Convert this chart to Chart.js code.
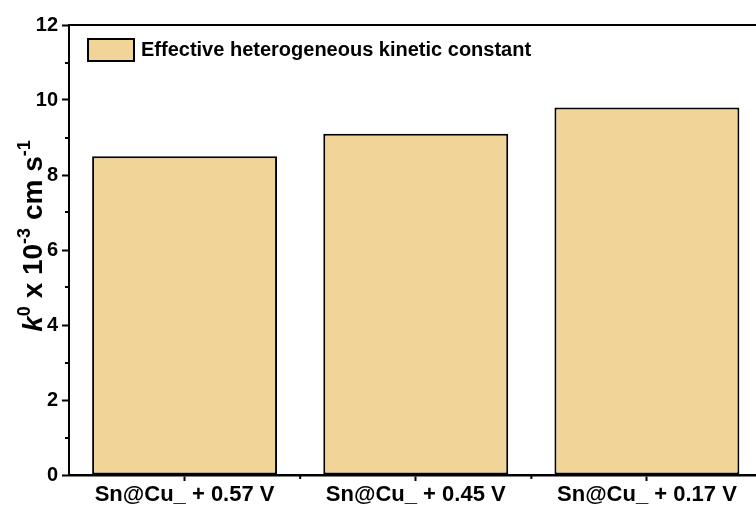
<!DOCTYPE html>
<html>
<head>
<meta charset="utf-8">
<script src="https://cdn.jsdelivr.net/npm/chart.js@4/dist/chart.umd.min.js"></script>
<style>
  html, body { margin: 0; padding: 0; background: #fff; overflow: hidden; }
  #wrap { width: 756px; height: 506px; overflow: hidden; }
  canvas { display: block; }
</style>
</head>
<body>
<div id="wrap"><canvas id="kChart" width="780" height="506"></canvas></div>
<script>
// data
const categories = ["Sn@Cu_ + 0.57 V", "Sn@Cu_ + 0.45 V", "Sn@Cu_ + 0.17 V"];
const kValues = [8.5, 9.1, 9.8];
const seriesLabel = "Effective heterogeneous kinetic constant";
const yMinorValues = [1, 3, 5, 7, 9, 11];

const FONT = "'Liberation Sans', Arial, sans-serif";
const BAR_FILL = "#F1D598";

// extra drawing: top frame, minor ticks, legend, axis title
const extras = {
  id: "extras",
  afterDraw(chart) {
    const ctx = chart.ctx;
    const area = chart.chartArea;
    const x = chart.scales.x;
    const y = chart.scales.y;
    ctx.save();
    ctx.strokeStyle = "#000";
    ctx.lineWidth = 2;

    // top frame line
    ctx.beginPath();
    ctx.moveTo(area.left - 1, area.top);
    ctx.lineTo(area.right + 1, area.top);
    ctx.stroke();

    // minor y ticks
    yMinorValues.forEach((v) => {
      const py = Math.round(y.getPixelForValue(v));
      ctx.beginPath();
      ctx.moveTo(area.left - 4, py);
      ctx.lineTo(area.left, py);
      ctx.stroke();
    });

    // minor x ticks between categories
    for (let i = 0; i < categories.length - 1; i++) {
      const px = (x.getPixelForValue(i) + x.getPixelForValue(i + 1)) / 2;
      ctx.beginPath();
      ctx.moveTo(px, area.bottom);
      ctx.lineTo(px, area.bottom + 4);
      ctx.stroke();
    }

    // legend
    const ds = chart.data.datasets[0];
    ctx.fillStyle = ds.backgroundColor;
    ctx.fillRect(88, 39, 46, 22);
    ctx.lineWidth = 2;
    ctx.strokeRect(88, 39, 46, 22);
    ctx.fillStyle = "#000";
    ctx.font = "bold 20px " + FONT;
    ctx.textBaseline = "middle";
    ctx.textAlign = "left";
    ctx.fillText(ds.label, 141, 50);

    // y axis title: k^0 x 10^-3 cm s^-1
    const parts = [
      { t: "k", italic: true },
      { t: "0", sup: true },
      { t: " x 10" },
      { t: "-3", sup: true },
      { t: " cm s" },
      { t: "-1", sup: true },
    ];
    const fontFor = (p) =>
      (p.italic ? "italic " : "") + "bold " + (p.sup ? 18 : 28) + "px " + FONT;
    let total = 0;
    parts.forEach((p) => {
      ctx.font = fontFor(p);
      p.w = ctx.measureText(p.t).width;
      total += p.w;
    });
    ctx.translate(42, 236);
    ctx.rotate(-Math.PI / 2);
    ctx.textBaseline = "alphabetic";
    let cx = -total / 2;
    parts.forEach((p) => {
      ctx.font = fontFor(p);
      ctx.fillText(p.t, cx, p.sup ? -12 : 0);
      cx += p.w;
    });
    ctx.restore();
  },
};

new Chart(document.getElementById("kChart"), {
  type: "bar",
  data: {
    labels: categories,
    datasets: [
      {
        label: seriesLabel,
        data: kValues,
        backgroundColor: BAR_FILL,
        borderColor: "#000",
        borderWidth: 2,
        borderSkipped: false,
        barPercentage: 0.8,
        categoryPercentage: 1,
      },
    ],
  },
  options: {
    responsive: false,
    animation: false,
    devicePixelRatio: 1,
    layout: { padding: { top: 25, left: 0, right: 17.5, bottom: 0 } },
    plugins: { legend: { display: false }, tooltip: { enabled: false } },
    scales: {
      x: {
        offset: true,
        afterFit: (s) => { s.height = 31; },
        grid: {
          offset: false,
          drawOnChartArea: false,
          drawTicks: true,
          tickLength: 6,
          tickWidth: 2,
          tickColor: "#000",
        },
        border: { color: "#000", width: 2.5 },
        ticks: {
          color: "#000",
          font: { family: FONT, size: 22, weight: "bold" },
          padding: 1,
          maxRotation: 0,
        },
      },
      y: {
        min: 0,
        max: 12,
        afterFit: (s) => { s.width = 69; },
        grid: {
          drawOnChartArea: false,
          drawTicks: true,
          tickLength: 7,
          tickWidth: 2,
          tickColor: "#000",
        },
        border: { color: "#000", width: 2 },
        ticks: {
          stepSize: 2,
          color: "#000",
          padding: 4,
          font: { family: FONT, size: 20, weight: "bold" },
        },
      },
    },
  },
  plugins: [extras],
});
</script>
</body>
</html>
